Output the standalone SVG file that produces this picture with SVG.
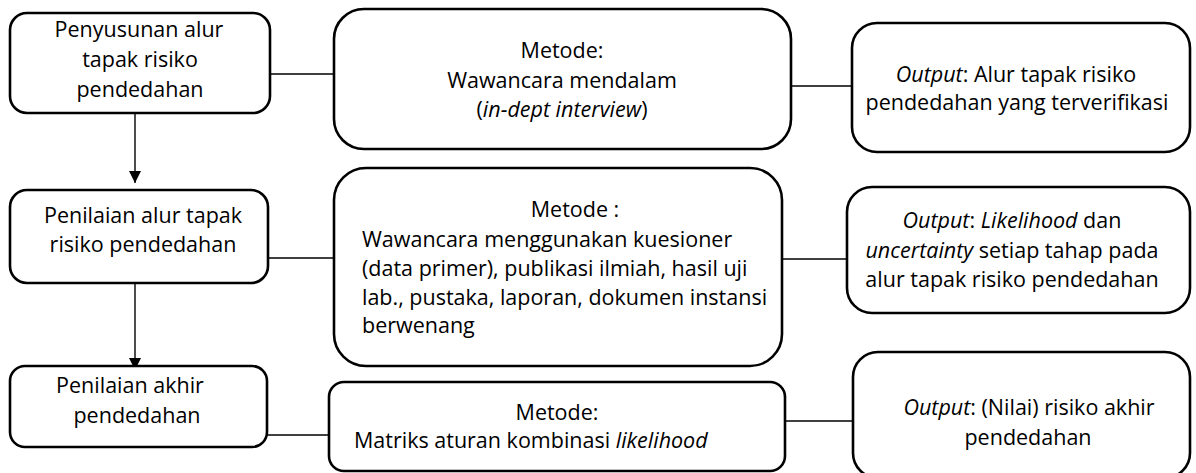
<svg xmlns="http://www.w3.org/2000/svg" width="1196" height="473" viewBox="0 0 1196 473">
<defs>
<style>
.box{fill:#fff;stroke:#000;stroke-width:2.6}
.ln{fill:none;stroke:#000;stroke-width:1.4}
text{font-family:"Open Sans","Noto Sans","Liberation Sans",sans-serif;font-size:21.5px;fill:#000}
.c{text-anchor:middle}
.i{font-style:italic}
</style>
<marker id="ah" markerWidth="12" markerHeight="12" viewBox="0 0 10 10" refX="10" refY="5" orient="auto" markerUnits="userSpaceOnUse">
<path d="M0,0 L10,5 L0,10 Z" fill="#000"/>
</marker>
</defs>
<rect width="1196" height="473" fill="#fff"/>
<g id="connectors">
<line class="ln" x1="270" y1="74" x2="334" y2="74"/>
<line class="ln" x1="791" y1="86" x2="852" y2="86"/>
<line class="ln" x1="268" y1="258" x2="334" y2="258"/>
<line class="ln" x1="782" y1="259" x2="847" y2="259"/>
<line class="ln" x1="267" y1="435" x2="329" y2="435"/>
<line class="ln" x1="785" y1="421" x2="853" y2="421"/>
<line class="ln" x1="135" y1="113" x2="135" y2="183" marker-end="url(#ah)"/>
<line class="ln" x1="135" y1="283" x2="135" y2="370" marker-end="url(#ah)"/>
</g>
<g id="n1">
<rect class="box" x="10" y="13" width="260" height="100" rx="17"/>
<text class="c" x="139" y="37">Penyusunan alur</text>
<text class="c" x="140" y="67">tapak risiko</text>
<text class="c" x="140" y="97">pendedahan</text>
</g>
<g id="n2">
<rect class="box" x="334" y="9" width="457" height="140" rx="30"/>
<text class="c" x="562" y="58">Metode:</text>
<text class="c" x="562" y="88">Wawancara mendalam</text>
<text class="c" x="562" y="117">(<tspan class="i">in-dept interview</tspan>)</text>
</g>
<g id="n3">
<rect class="box" x="852" y="23" width="338" height="129" rx="25"/>
<text class="c" x="1016" y="82"><tspan class="i">Output</tspan>: Alur tapak risiko</text>
<text class="c" x="1017" y="110">pendedahan yang terverifikasi</text>
</g>
<g id="n4">
<rect class="box" x="10" y="190" width="258" height="93" rx="17"/>
<text class="c" x="143" y="223">Penilaian alur tapak</text>
<text class="c" x="143" y="252">risiko pendedahan</text>
</g>
<g id="n5">
<rect class="box" x="334" y="168" width="448" height="198" rx="32"/>
<text class="c" x="575" y="217">Metode :</text>
<text x="362" y="247">Wawancara menggunakan kuesioner</text>
<text x="362" y="276">(data primer), publikasi ilmiah, hasil uji</text>
<text x="362" y="305">lab., pustaka, laporan, dokumen instansi</text>
<text x="362" y="333">berwenang</text>
</g>
<g id="n6">
<rect class="box" x="847" y="187" width="343" height="126" rx="25"/>
<text class="c" x="1012" y="228"><tspan class="i">Output</tspan>: <tspan class="i">Likelihood</tspan> dan</text>
<text class="c" x="1012" y="258"><tspan class="i">uncertainty</tspan> setiap tahap pada</text>
<text class="c" x="1012" y="287">alur tapak risiko pendedahan</text>
</g>
<g id="n7">
<rect class="box" x="10" y="366" width="257" height="81" rx="15"/>
<text class="c" x="130" y="393">Penilaian akhir</text>
<text class="c" x="137" y="423">pendedahan</text>
</g>
<g id="n8">
<rect class="box" x="329" y="382" width="456" height="89" rx="15"/>
<text class="c" x="557" y="420">Metode:</text>
<text x="354" y="448">Matriks aturan kombinasi <tspan class="i">likelihood</tspan></text>
</g>
<g id="n9">
<rect class="box" x="853" y="352" width="337" height="126" rx="25"/>
<text class="c" x="1029" y="415"><tspan class="i">Output</tspan>: (Nilai) risiko akhir</text>
<text class="c" x="1028" y="445">pendedahan</text>
</g>
</svg>
